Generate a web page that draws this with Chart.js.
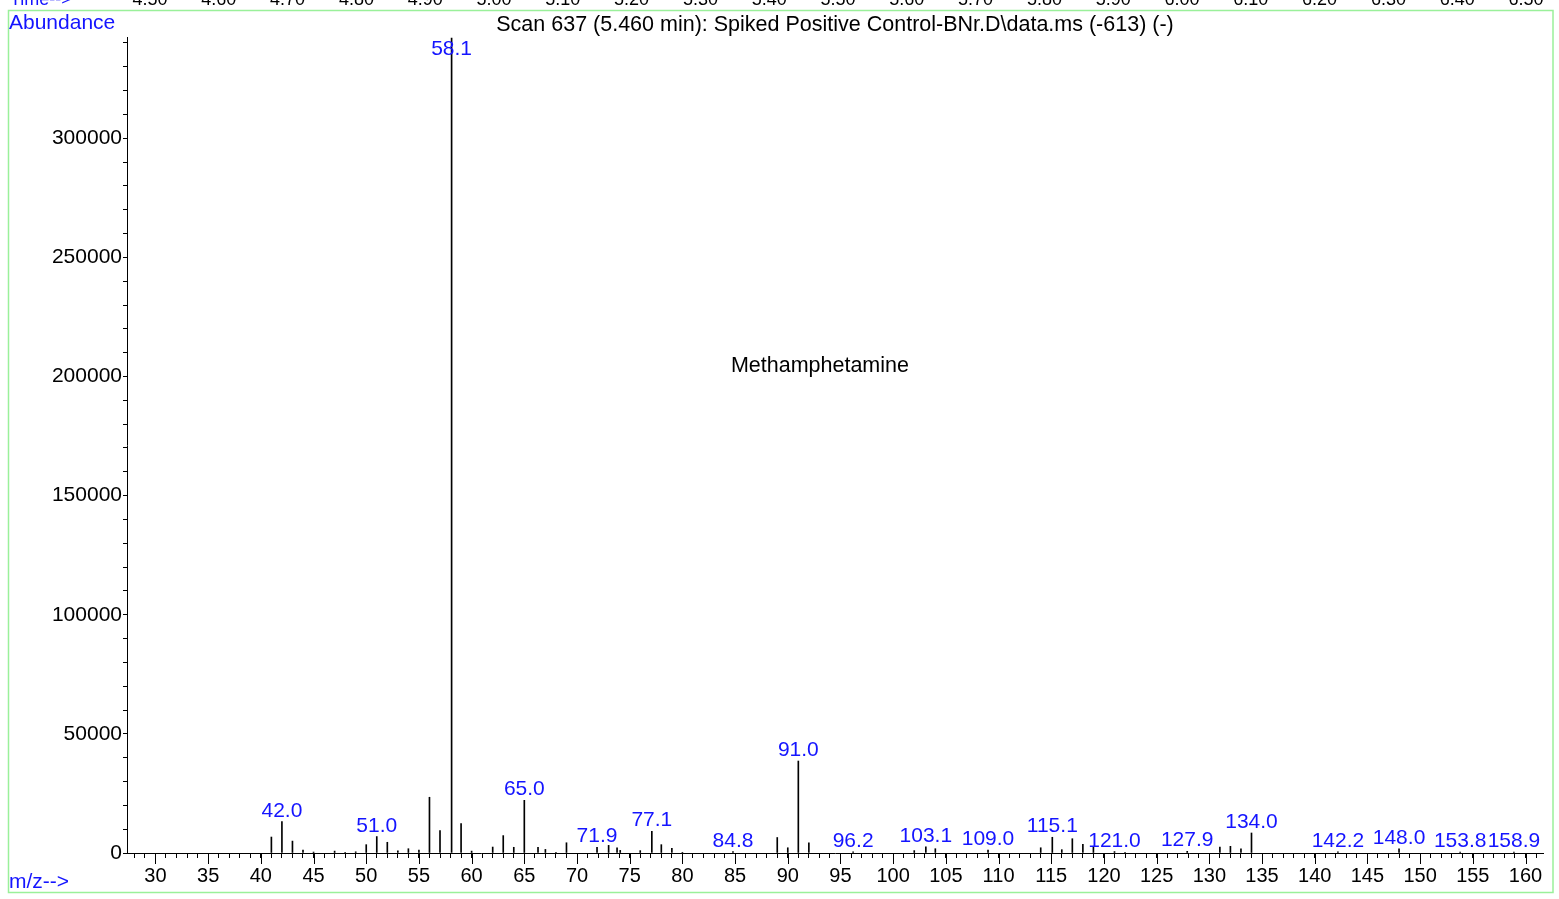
<!DOCTYPE html>
<html>
<head>
<meta charset="utf-8">
<script src="https://cdn.jsdelivr.net/npm/chart.js@4.4.0/dist/chart.umd.min.js"></script>
<style>
  html, body { margin: 0; padding: 0; background: #fff; }
  #spec { display: block; }
</style>
</head>
<body>
<canvas id="spec" width="1559" height="899"></canvas>
<script>
// m/z of each peak and its abundance
const mz = [41, 42, 43, 44, 45, 47, 48, 49, 50, 51, 52, 53, 54, 55, 56, 57, 58.1, 59, 60,
    62, 63, 64, 65, 66.3, 67, 68, 69, 71.9, 73, 73.8, 74.1, 76, 77.1, 78, 79, 80, 84.8,
    89, 90, 91, 92, 96.2, 102, 103.1, 104, 109, 114, 115.1, 116, 117, 118, 119, 121, 122,
    127.9, 131, 132, 133, 134, 142.2, 148, 153.8, 158.9];
const abundance = [6700, 13200, 5000, 1200, 400, 800, 300, 500, 3500, 6900, 4500, 900, 1800, 1200, 23400, 9400, 342000, 12300, 800,
    2500, 7300, 2400, 22100, 2400, 1500, 300, 4300, 2400, 3200, 2200, 1100, 1000, 9100, 3500, 2000, 300, 600,
    6500, 2200, 38600, 4300, 500, 1000, 2600, 1800, 1200, 2200, 6600, 1400, 6000, 3600, 2500, 600, 300,
    700, 2500, 2800, 1800, 8400, 500, 1800, 400, 400];
// peaks that carry a blue m/z label
const labeledPeaks = [42.0, 51.0, 58.1, 65.0, 71.9, 77.1, 84.8, 91.0, 96.2, 103.1, 109.0, 115.1,
    121.0, 127.9, 134.0, 142.2, 148.0, 153.8, 158.9];
// retention time strip along the top edge (mostly cut off)
const timeLabels = ['4.50', '4.60', '4.70', '4.80', '4.90', '5.00', '5.10', '5.20', '5.30', '5.40', '5.50',
    '5.60', '5.70', '5.80', '5.90', '6.00', '6.10', '6.20', '6.30', '6.40', '6.50'];
const yTicks = [0, 50000, 100000, 150000, 200000, 250000, 300000];

const FONT = '"Liberation Sans", Arial, Helvetica, sans-serif';
const BLUE = '#1414ff';

// frame, headings and the cut-off time strip
const framePlugin = {
    id: 'frame',
    beforeDraw(chart) {
        const c = chart.ctx;
        const area = chart.chartArea;
        c.save();
        c.fillStyle = '#fff';
        c.fillRect(0, 0, chart.width, chart.height);
        c.strokeStyle = '#9af09a';
        c.lineWidth = 1.5;
        c.strokeRect(8.5, 10.5, 1544.5, 882);

        c.font = '18px ' + FONT;
        c.textBaseline = 'alphabetic';
        c.fillStyle = BLUE;
        c.textAlign = 'left';
        c.fillText('Time-->', 10, 5);
        c.fillStyle = '#000';
        c.textAlign = 'center';
        timeLabels.forEach((t, i) => c.fillText(t, 150 + i * 68.8, 5));

        c.font = '21px ' + FONT;
        c.fillStyle = BLUE;
        c.textAlign = 'left';
        c.textBaseline = 'middle';
        c.fillText('Abundance', 9, 23);
        c.fillText('m/z-->', 9, 882);

        c.fillStyle = '#000';
        c.textAlign = 'center';
        c.font = '21.5px ' + FONT;
        c.fillText('Scan 637 (5.460 min): Spiked Positive Control-BNr.D\\data.ms (-613) (-)', (area.left + area.right) / 2, 25);
        const xs = chart.scales.x, ys = chart.scales.y;
        c.fillText('Methamphetamine', xs.getPixelForValue(93.05), ys.getPixelForValue(204500));
        c.restore();
    },
    afterDraw(chart) {
        // longer ticks every 5 m/z
        const c = chart.ctx;
        const xs = chart.scales.x;
        c.save();
        c.strokeStyle = '#000';
        c.lineWidth = 1;
        xs.ticks.forEach(t => {
            if (t.value % 5 === 0) {
                const px = Math.round(xs.getPixelForValue(t.value)) + 0.5;
                c.beginPath();
                c.moveTo(px, xs.top);
                c.lineTo(px, xs.top + 11);
                c.stroke();
            }
        });
        c.restore();
    }
};

const peakLabelPlugin = {
    id: 'peakLabels',
    afterDatasetsDraw(chart) {
        const c = chart.ctx;
        const meta = chart.getDatasetMeta(0);
        c.save();
        c.font = '21px ' + FONT;
        c.fillStyle = BLUE;
        c.textAlign = 'center';
        c.textBaseline = 'alphabetic';
        labeledPeaks.forEach(p => {
            const i = mz.findIndex(m => Math.abs(m - p) < 0.01);
            if (i < 0) return;
            const bar = meta.data[i];
            c.fillText(p.toFixed(1), bar.x, Math.max(bar.y - 5, 55));
        });
        c.restore();
    }
};

function everyStep(from, to, step) {
    const out = [];
    for (let v = from; v <= to; v += step) out.push({ value: v });
    return out;
}

const ctx = document.getElementById('spec').getContext('2d');
new Chart(ctx, {
    type: 'bar',
    data: {
        datasets: [{
            data: mz.map((m, i) => ({ x: m, y: abundance[i] })),
            backgroundColor: '#000',
            borderWidth: 0,
            barThickness: 1,
            grouped: false
        }]
    },
    options: {
        responsive: false,
        animation: false,
        layout: { padding: { left: 0, top: 37, right: 16, bottom: 0 } },
        plugins: {
            legend: { display: false },
            tooltip: { enabled: false }
        },
        scales: {
            x: {
                type: 'linear',
                min: 27.3,
                max: 161.66,
                offset: false,
                grid: { offset: false, drawOnChartArea: false, tickLength: 5, color: '#000' },
                border: { color: '#000', width: 1 },
                ticks: {
                    autoSkip: false,
                    maxRotation: 0,
                    padding: 6,
                    color: '#000',
                    font: { family: FONT, size: 20 },
                    callback: v => (v % 5 === 0 ? String(v) : '')
                },
                afterBuildTicks: s => { s.ticks = everyStep(28, 161, 1); },
                afterFit: s => { s.height = 46; }
            },
            y: {
                min: 0,
                max: 342500,
                grid: { drawOnChartArea: false, tickLength: 4, color: '#000' },
                border: { color: '#000', width: 1 },
                ticks: {
                    autoSkip: false,
                    padding: 1,
                    color: '#000',
                    font: { family: FONT, size: 21 },
                    callback: v => (yTicks.includes(v) ? String(v) : '')
                },
                afterBuildTicks: s => { s.ticks = everyStep(0, 340000, 10000); },
                afterFit: s => { s.width = 127; }
            }
        }
    },
    plugins: [framePlugin, peakLabelPlugin]
});
</script>
</body>
</html>
